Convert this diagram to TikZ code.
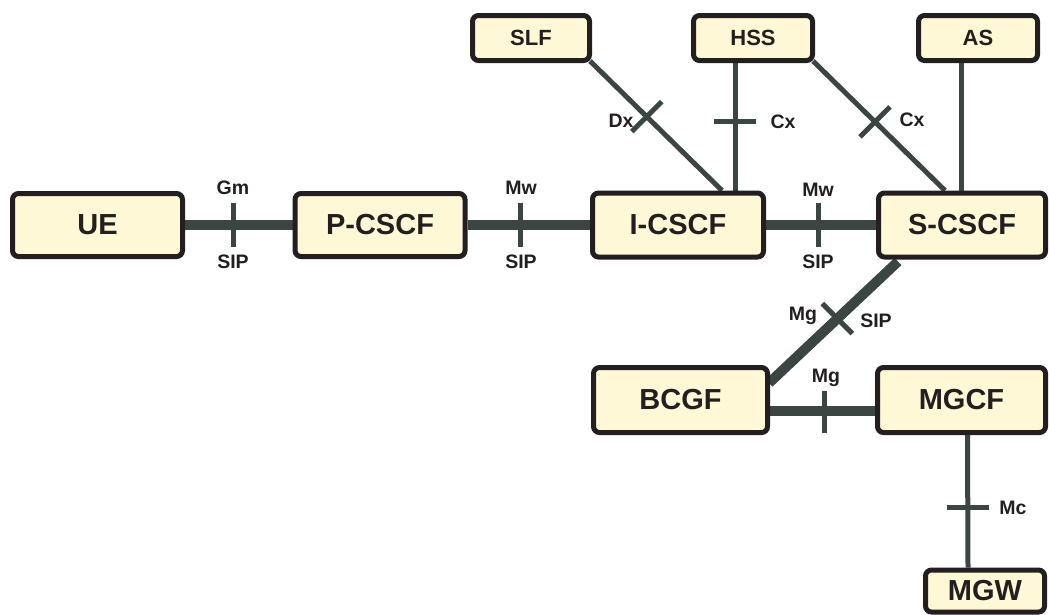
\documentclass[tikz,border=0pt]{standalone}
\usepackage{fontspec}
\setmainfont{Liberation Sans}
\usetikzlibrary{calc,backgrounds}
\definecolor{boxfill}{HTML}{FFF8D6}
\definecolor{linecol}{HTML}{3B4643}
\definecolor{txtcol}{HTML}{231F20}
\tikzset{
  nebox/.style={draw=txtcol,line width=5pt,fill=boxfill,rounded corners=6pt,inner sep=0pt,
     text=txtcol,font=\fontsize{29}{29}\selectfont\bfseries},
  smallbox/.style={nebox,font=\fontsize{22}{22}\selectfont\bfseries},
  thickline/.style={draw=linecol,line width=10pt},
  thinline/.style={draw=linecol,line width=5pt},
  tickmark/.style={draw=linecol,line width=5pt},
  lbl/.style={text=txtcol,font=\fontsize{19.5}{19.5}\selectfont\bfseries,inner sep=0pt}
}
\begin{document}
\begin{tikzpicture}[x=1pt,y=-1pt]
\useasboundingbox (0,0) rectangle (1049,614);
% nodes
\node[nebox,minimum width=170,minimum height=63] (ue) at (97.5,225) {UE};
\node[nebox,minimum width=170,minimum height=63] (pcscf) at (380,225) {P-CSCF};
\node[nebox,minimum width=171,minimum height=64] (icscf) at (678,225) {I-CSCF};
\node[nebox,minimum width=167,minimum height=64] (scscf) at (962,225) {S-CSCF};
\node[smallbox,minimum width=117,minimum height=45] (slf) at (531,38) {SLF};
\node[smallbox,minimum width=119,minimum height=45] (hss) at (753,38) {HSS};
\node[smallbox,minimum width=119,minimum height=45] (as) at (978,38) {AS};
\node[nebox,minimum width=174,minimum height=65] (bcgf) at (680.5,400) {BCGF};
\node[nebox,minimum width=168,minimum height=65] (mgcf) at (961.5,400) {MGCF};
\node[nebox,minimum width=119,minimum height=42] (mgw) at (985,591) {MGW};
% connectors behind
\begin{scope}[on background layer]
\draw[thickline] (ue) -- (pcscf);
\draw[thickline] (pcscf) -- (icscf);
\draw[thickline] (icscf) -- (scscf);
\draw[thinline] ($(slf.south east)+(-2,-2)$) coordinate (s1) -- ($(icscf.north)+(44,0)$) coordinate (s2);
\draw[thinline] ($(hss.south)+(-18,0)$) coordinate (h1) -- ($(icscf.north)+(57,0)$) coordinate (h2);
\draw[thinline] ($(hss.south east)+(-2,-2)$) coordinate (h3) -- ($(scscf.north)+(-17,0)$) coordinate (h4);
\draw[thinline] ($(as.south)+(-17,0)$) -- ($(scscf.north)+(-1,0)$);
\draw[thickline] ($(scscf.south west)+(22,2)$) coordinate (d1) -- ($(bcgf.north east)+(-1,18)$) coordinate (d2);
\draw[thickline] ($(bcgf.east)+(0,11)$) coordinate (b1) -- ($(mgcf.west)+(0,11)$) coordinate (b2);
\draw[thinline] ($(mgcf.south)+(6,0)$) coordinate (m1) -- ($(mgw.north)+(-17,0)$) coordinate (m2);
\end{scope}
% ticks
\coordinate (k1) at (233,225);
\coordinate (k2) at (520,225);
\coordinate (k3) at (818,225);
\draw[tickmark] ($(k1)+(0,-22)$) -- ($(k1)+(0,22)$);
\draw[tickmark] ($(k2)+(0,-22)$) -- ($(k2)+(0,22)$);
\draw[tickmark] ($(k3)+(0,-22)$) -- ($(k3)+(0,22)$);
\path (s1) -- (s2) coordinate[pos=0.43] (kd);
\draw[tickmark] ($(kd)+(15,-15)$) -- ($(kd)+(-15,15)$);
\path (h1) -- (h2) coordinate[pos=0.46] (kc);
\draw[tickmark] ($(kc)+(-21,0)$) -- ($(kc)+(21,0)$);
\path (h3) -- (h4) coordinate[pos=0.47] (kc2);
\draw[tickmark] ($(kc2)+(15,-15)$) -- ($(kc2)+(-15,15)$);
\path (d1) -- (d2) coordinate[pos=0.47] (kg);
\draw[tickmark] ($(kg)+(-15,-15)$) -- ($(kg)+(15,15)$);
\coordinate (kb) at (824,411);
\draw[tickmark] ($(kb)+(0,-20)$) -- ($(kb)+(0,22)$);
\path (m1) -- (m2) coordinate[pos=0.55] (km);
\draw[tickmark] ($(km)+(-21,0)$) -- ($(km)+(21,0)$);
% labels
\node[lbl] (lgm) at (233,188) {Gm};
\node[lbl] (lsip1) at (233,262) {SIP};
\node[lbl] (lmw1) at (521,188) {Mw};
\node[lbl] (lsip2) at (521,262) {SIP};
\node[lbl] (lmw2) at (818,190) {Mw};
\node[lbl] (lsip3) at (818,262) {SIP};
\node[lbl] (ldx) at (621,121) {Dx};
\node[lbl] (lcx1) at (783,122) {Cx};
\node[lbl] (lcx2) at (912,120) {Cx};
\node[lbl] (lmg1) at (803,316) {Mg};
\node[lbl] (lsip4) at (876,321) {SIP};
\node[lbl] (lmg2) at (826,378) {Mg};
\node[lbl] (lmc) at (1013,508) {Mc};
\end{tikzpicture}
\end{document}
